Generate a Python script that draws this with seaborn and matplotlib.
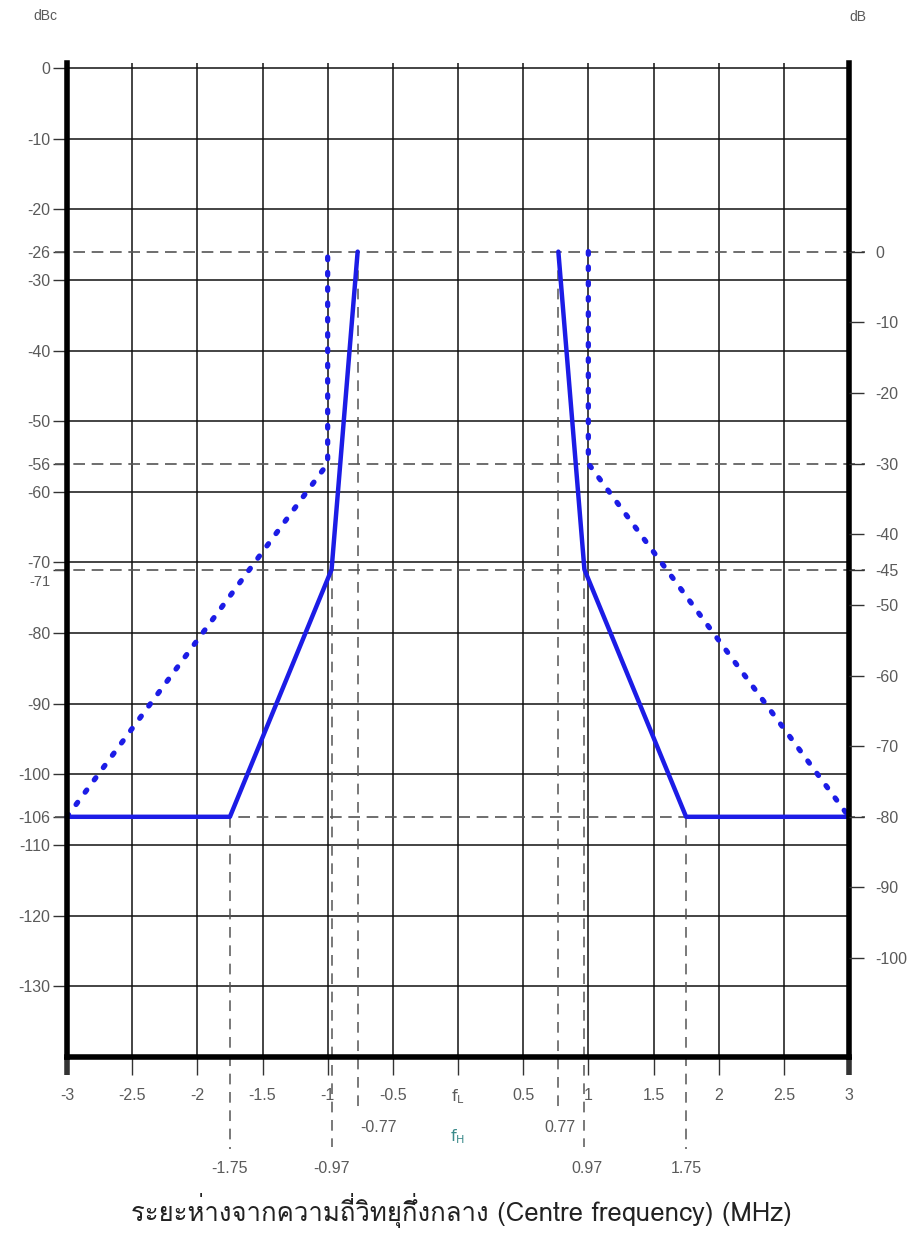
import numpy as np
import pandas as pd
import matplotlib
matplotlib.use("Agg")
import matplotlib.pyplot as plt
import matplotlib.transforms as mtrans
from matplotlib import font_manager
from matplotlib.ft2font import FT2Font
import seaborn as sns

# ---------------- data ----------------
solid_left_x = [-3, -1.75, -0.97, -0.77]
solid_left_y = [-106, -106, -71, -26]
solid_right_x = [0.77, 0.97, 1.75, 3]
solid_right_y = [-26, -71, -106, -106]
dotted_left_x = [-3, -1, -1]
dotted_left_y = [-106, -56, -26]
dotted_right_x = [1, 1, 3]
dotted_right_y = [-26, -56, -106]

ref_levels = [-26, -56, -71, -106]          # horizontal dashed reference levels (dBc)
mark_lo = [-1.75, -0.97, -0.77, 0.77, 0.97, 1.75]
mark_top = [-106, -71, -26, -26, -71, -106]  # where each vertical marker starts
mark_labels = ["-1.75", "-0.97", "-0.77", "0.77", "0.97", "1.75"]

x_ticks = [-3, -2.5, -2, -1.5, -1, -0.5, 0, 0.5, 1, 1.5, 2, 2.5, 3]
x_ticklabels = ["-3", "-2.5", "-2", "-1.5", "-1", "-0.5", r"$\mathrm{f}_{\mathrm{L}}$",
                "0.5", "1", "1.5", "2", "2.5", "3"]
left_ticks = [0, -10, -20, -26, -30, -40, -50, -56, -60, -70, -71, -80, -90,
              -100, -106, -110, -120, -130]
grid_y = [0, -10, -20, -30, -40, -50, -60, -70, -80, -90, -100, -110, -120, -130]
right_ticks = [0, -10, -20, -30, -40, -45, -50, -60, -70, -80, -90, -100]
db_offset = 26  # dB = dBc + 26

title = "ระยะห่างจากความถี่วิทยุกึ่งกลาง (Centre frequency) (MHz)"

# ---------------- fonts ----------------
def find_thai_family():
    for f in font_manager.fontManager.ttflist:
        try:
            ft = FT2Font(f.fname)
            if ft.get_char_index(ord("ร")) and ft.get_char_index(ord("C")):
                return f.name
        except Exception:
            pass
    return None

sns.set_style("white")
plt.rcParams["font.family"] = ["Liberation Sans", "DejaVu Sans"]
thai = find_thai_family()
title_family = [thai, "DejaVu Sans"] if thai else ["DejaVu Sans"]

LBL = "#5a5a5a"
BLUE = "#1c1ce6"
DASH = "#555555"

fig = plt.figure(figsize=(9.23, 12.39), dpi=100)
ax = fig.add_axes([67 / 923, 182 / 1239, 782 / 923, 994 / 1239])

YMIN, YMAX = -140, 0.7
ax.set_xlim(-3, 3)
ax.set_ylim(YMIN, YMAX)

# grid
ax.yaxis.remove_overlapping_locs = False
ax.set_xticks(x_ticks)
ax.set_xticklabels(x_ticklabels)
ax.set_yticks(grid_y, minor=True)
ax.set_yticks(left_ticks)
ax.set_yticklabels([str(v) for v in left_ticks])
ax.grid(False)
ax.xaxis.grid(True, which="major", color="#111111", lw=1.1, zorder=0)
ax.yaxis.grid(True, which="minor", color="#111111", lw=1.1, zorder=0)
ax.set_axisbelow(True)

ax.tick_params(axis="y", which="minor", length=0)
ax.tick_params(axis="y", which="major", direction="out", length=10, width=1.0,
               color="#333333", labelcolor=LBL, labelsize=11.5, pad=2, left=True)
ax.tick_params(axis="x", which="major", direction="out", length=13, width=1.0,
               color="#333333", labelcolor=LBL, labelsize=11.5, pad=9, bottom=True)

for s in ["left", "right", "bottom"]:
    ax.spines[s].set_linewidth(4)
    ax.spines[s].set_color("black")
    ax.spines[s].set_zorder(5)
ax.spines["top"].set_visible(False)

# reference dashed lines
for lv in ref_levels:
    ax.plot([-3.09, 3.12], [lv, lv], color=DASH, lw=1.2, dashes=(7, 4),
            clip_on=False, zorder=2)
ends = [-153, -152.7, -147.5, -147.5, -152.7, -153]
for xv, top, yend in zip(mark_lo, mark_top, ends):
    ax.plot([xv, xv], [top, yend], color=DASH, lw=1.1, dashes=(7, 5),
            clip_on=False, zorder=2)

# curves
for xs, ys in [(solid_left_x, solid_left_y), (solid_right_x, solid_right_y)]:
    sns.lineplot(x=xs, y=ys, sort=False, estimator=None, ax=ax, color=BLUE,
                 lw=3.2, solid_joinstyle="round", zorder=4, clip_on=False)
for xs, ys in [(dotted_left_x, dotted_left_y), (dotted_right_x, dotted_right_y)]:
    sns.lineplot(x=xs, y=ys, sort=False, estimator=None, ax=ax, color=BLUE,
                 lw=3.8, linestyle=(0, (0.5, 2.4)), dash_capstyle="round",
                 zorder=4, clip_on=False)

# extra bottom labels
ax.text(-1.75, -155.8, "-1.75", ha="center", va="center", fontsize=11.5, color=LBL)
ax.text(-0.97, -155.8, "-0.97", ha="center", va="center", fontsize=11.5, color=LBL)
ax.text(-0.75, -150.0, "-0.77", ha="left", va="center", fontsize=11.5, color=LBL)
ax.text(0.90, -150.0, "0.77", ha="right", va="center", fontsize=11.5, color=LBL)
ax.text(0.99, -155.8, "0.97", ha="center", va="center", fontsize=11.5, color=LBL)
ax.text(1.75, -155.8, "1.75", ha="center", va="center", fontsize=11.5, color=LBL)
ax.text(0, -151.3, r"$\mathrm{f}_{\mathrm{H}}$", ha="center", va="center",
        fontsize=11.5, color="#3a8a8a")

# right axis (dB)
ax2 = ax.twinx()
ax2.set_ylim(YMIN + db_offset, YMAX + db_offset)
ax2.set_yticks(right_ticks)
ax2.set_yticklabels([str(v) for v in right_ticks])
ax2.tick_params(axis="y", direction="out", length=11, width=1.0, color="#333333",
                labelcolor=LBL, labelsize=11.5, pad=8, right=True)
for s in ax2.spines.values():
    s.set_visible(False)
ax2.grid(False)

fig.text(45 / 923, 1 - 16 / 1239, "dBc", fontsize=10, color=LBL, ha="center", va="center")
fig.text(858 / 923, 1 - 17 / 1239, "dB", fontsize=10, color=LBL, ha="center", va="center")
fig.text(0.5, 1 - 1210 / 1239, title, fontsize=18.5, color="#222222",
         ha="center", va="center", family=title_family)

# thick ends of the side spines below the x axis
fig.canvas.draw()
xt = ax.xaxis.get_major_ticks()
for t in (xt[0], xt[-1]):
    t.tick1line.set_markeredgewidth(4)
    t.tick1line.set_color("black")
for t in ax.yaxis.get_major_ticks():
    if t.get_loc() == -71:
        t.label1.set_transform(t.label1.get_transform() +
                               mtrans.ScaledTranslation(0, -11 / 100, fig.dpi_scale_trans))
        t.label1.set_fontsize(10.5)

fig.savefig("out.png", dpi=100)
